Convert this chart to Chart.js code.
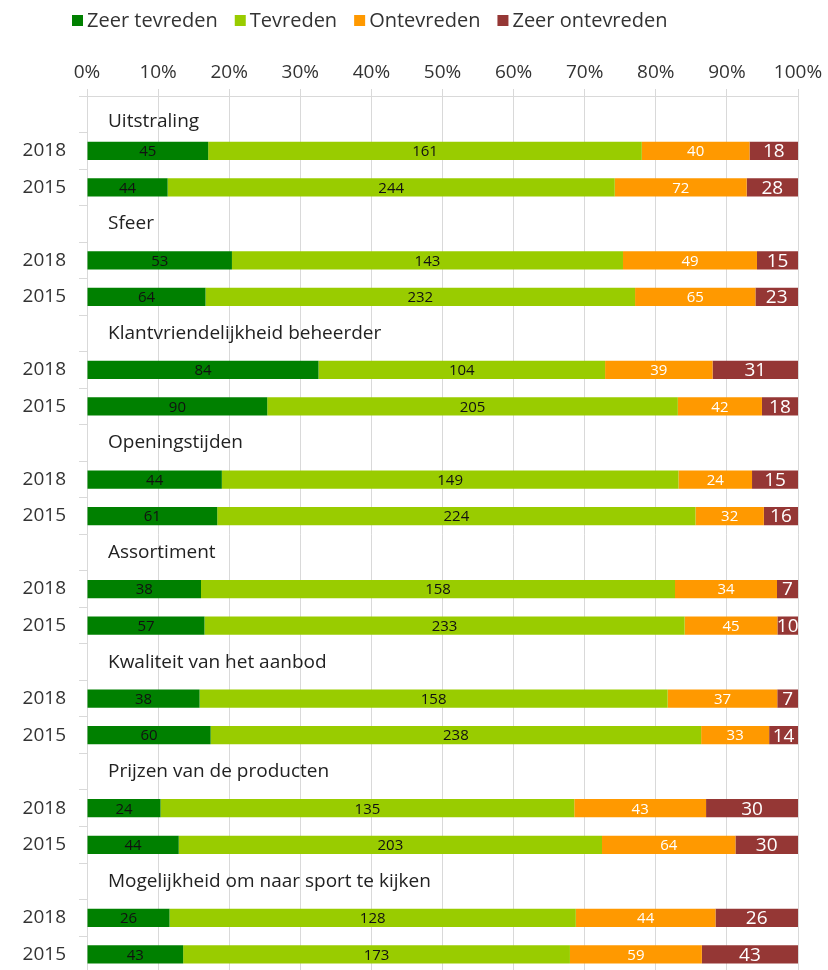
<!DOCTYPE html>
<html>
<head>
<meta charset="utf-8">
<script src="https://cdn.jsdelivr.net/npm/chart.js@4.4.1/dist/chart.umd.min.js"></script>
<style>
  html, body { margin: 0; padding: 0; background: #fff; overflow: hidden; }
  #wrap { width: 828px; height: 970px; overflow: hidden; position: relative; }
  #c { display: block; }
</style>
</head>
<body>
<div id="wrap"><canvas id="c" width="828" height="997"></canvas></div>
<script>
// ---- data ----
const groups = [
  'Uitstraling',
  'Sfeer',
  'Klantvriendelijkheid beheerder',
  'Openingstijden',
  'Assortiment',
  'Kwaliteit van het aanbod',
  'Prijzen van de producten',
  'Mogelijkheid om naar sport te kijken'
];
const years = ['2018', '2015'];
const seriesNames = ['Zeer tevreden', 'Tevreden', 'Ontevreden', 'Zeer ontevreden'];
// counts per bar, ordered group by group: 2018, 2015
const zeerTevreden   = [45, 44, 53, 64, 84, 90, 44, 61, 38, 57, 38, 60, 24, 44, 26, 43];
const tevreden       = [161, 244, 143, 232, 104, 205, 149, 224, 158, 233, 158, 238, 135, 203, 128, 173];
const ontevreden     = [40, 72, 49, 65, 39, 42, 24, 32, 34, 45, 37, 33, 43, 64, 44, 59];
const zeerOntevreden = [18, 28, 15, 23, 31, 18, 15, 16, 7, 10, 7, 14, 30, 30, 26, 43];
const xTicks = [0, 10, 20, 30, 40, 50, 60, 70, 80, 90, 100];

const colors = ['#008000', '#99CC00', '#FF9900', '#953735'];
const labelColors = ['#111111', '#111111', '#ffffff', '#ffffff'];
const labelSizes = [15, 15, 15, 19];

// ---- build slots: title row, 2018, 2015 per group ----
const countSeries = [zeerTevreden, tevreden, ontevreden, zeerOntevreden];
const slotLabels = [];
const titleSlots = [];
const slotBar = []; // bar index or null
groups.forEach((g, gi) => {
  titleSlots.push(slotLabels.length);
  slotLabels.push('');
  slotBar.push(null);
  years.forEach((y, yi) => {
    slotLabels.push(y);
    slotBar.push(gi * years.length + yi);
  });
});
const totals = zeerTevreden.map((_, i) => countSeries.reduce((s, arr) => s + arr[i], 0));

const datasets = countSeries.map((arr, si) => ({
  label: seriesNames[si],
  backgroundColor: colors[si],
  borderWidth: 0,
  counts: slotBar.map(b => b === null ? null : arr[b]),
  data: slotBar.map(b => b === null ? null : arr[b] / totals[b] * 100),
  barPercentage: 0.5,
  categoryPercentage: 1.0
}));

const FONT = "'Open Sans', 'Noto Sans', sans-serif";

const customLegend = {
  id: 'customLegend',
  afterDraw(chart) {
    const ctx = chart.ctx;
    ctx.save();
    ctx.font = '20px ' + FONT;
    ctx.textBaseline = 'middle';
    ctx.textAlign = 'left';
    let x = 72;
    const y = 20;
    chart.data.datasets.forEach(ds => {
      ctx.fillStyle = ds.backgroundColor;
      ctx.fillRect(x, y - 5, 11, 11);
      ctx.fillStyle = '#333333';
      ctx.fillText(ds.label, x + 15, y + 1);
      x += 15 + ctx.measureText(ds.label).width + 17;
    });
    ctx.restore();
  }
};

const groupTitles = {
  id: 'groupTitles',
  afterDraw(chart) {
    const ctx = chart.ctx;
    const ys = chart.scales.y;
    ctx.save();
    ctx.font = '19px ' + FONT;
    ctx.fillStyle = '#222222';
    ctx.textBaseline = 'middle';
    ctx.textAlign = 'left';
    titleSlots.forEach((slot, gi) => {
      const shift = gi === 0 ? 7 : 0;
      ctx.fillText(groups[gi], chart.chartArea.left + 21, ys.getPixelForValue(slot) + shift);
    });
    ctx.restore();
  }
};

const barLabels = {
  id: 'barLabels',
  afterDatasetsDraw(chart) {
    const ctx = chart.ctx;
    ctx.save();
    ctx.textAlign = 'center';
    ctx.textBaseline = 'middle';
    chart.data.datasets.forEach((ds, si) => {
      const meta = chart.getDatasetMeta(si);
      ctx.font = labelSizes[si] + 'px ' + FONT;
      ctx.fillStyle = labelColors[si];
      meta.data.forEach((el, i) => {
        const c = ds.counts[i];
        if (c === null || c === undefined) return;
        const cx = (el.x + el.base) / 2;
        ctx.fillText(String(c), cx, el.y + 1);
      });
    });
    ctx.restore();
  }
};

new Chart(document.getElementById('c'), {
  type: 'bar',
  data: { labels: slotLabels, datasets },
  options: {
    indexAxis: 'y',
    responsive: false,
    animation: false,
    layout: { padding: { top: 40, right: 30, bottom: 7, left: 0 } },
    plugins: {
      legend: { display: false },
      tooltip: { enabled: false }
    },
    scales: {
      x: {
        position: 'top',
        stacked: true,
        min: 0,
        max: 100,
        afterBuildTicks(scale) { scale.ticks = xTicks.map(v => ({ value: v })); },
        afterFit(scale) { scale.height = 56; },
        ticks: {
          callback: v => v + '%',
          font: { family: FONT, size: 19 },
          color: '#333333',
          padding: 5,
          maxRotation: 0
        },
        grid: { color: '#d9d9d9', lineWidth: 1, tickLength: 7, drawTicks: true },
        border: { display: true, color: '#d9d9d9' }
      },
      y: {
        stacked: true,
        afterFit(scale) { scale.width = 87; },
        ticks: {
          font: { family: FONT, size: 19 },
          color: '#333333',
          padding: 13,
          autoSkip: false
        },
        grid: { drawOnChartArea: false, color: '#d9d9d9', tickLength: 8, offset: true },
        border: { display: false }
      }
    }
  },
  plugins: [customLegend, groupTitles, barLabels]
});
</script>
</body>
</html>
